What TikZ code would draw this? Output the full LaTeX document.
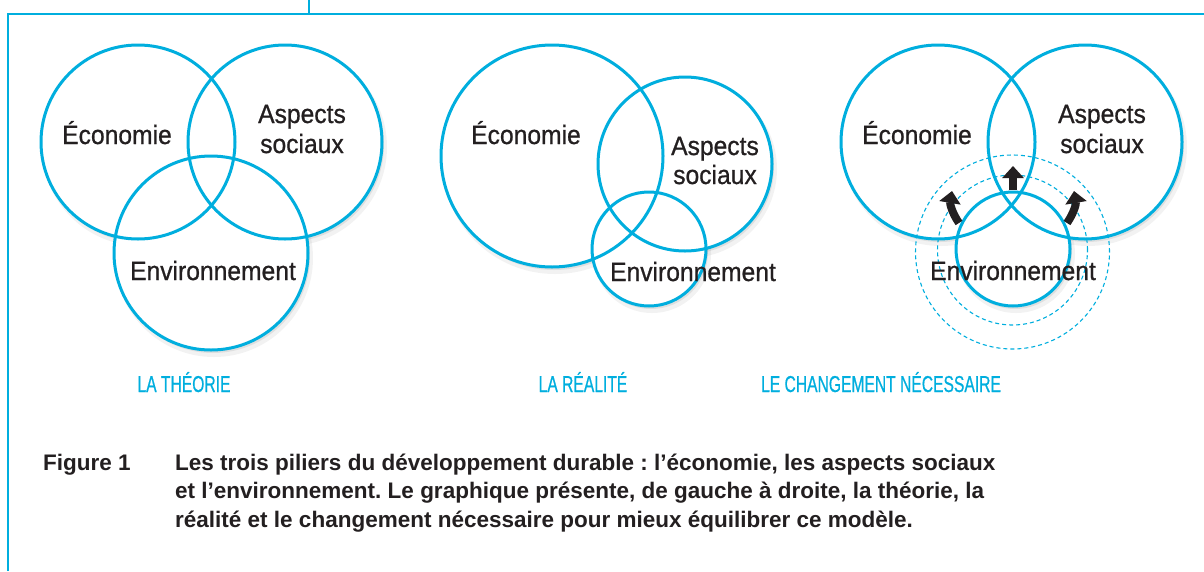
\documentclass[tikz,border=0pt]{standalone}
\usepackage{fontspec}
\setmainfont{Liberation Sans}
\newfontfamily\diagfont[FakeStretch=0.93,FakeBold=0.8]{Liberation Sans}
\newfontfamily\labfont[FakeStretch=0.68,FakeBold=0.6]{Liberation Sans}
\usetikzlibrary{arrows.meta}
\definecolor{cy}{RGB}{0,174,222}
\definecolor{ink}{RGB}{35,31,32}
\frenchspacing
\tikzset{
  ring/.style={circle, draw=cy, line width=3pt, inner sep=0pt, outer sep=0pt},
  dring/.style={circle, draw=cy, line width=1.1pt, dash pattern=on 4pt off 3pt, inner sep=0pt},
  word/.style={font=\diagfont\fontsize{26.5}{30}\selectfont, text=ink, inner sep=0pt, anchor=base},
  title/.style={font=\labfont\fontsize{23}{26}\selectfont, text=cy, inner sep=0pt, anchor=base},
  capt/.style={font=\bfseries\fontsize{22.5}{28}\selectfont, text=ink, inner sep=0pt, anchor=base west},
  frame/.style={draw=cy, line width=2pt},
  blk/.style={draw=ink, line width=8pt, -{Triangle[length=12pt,width=21pt]}},
}
\begin{document}
\begin{tikzpicture}[x=1pt,y=-1pt]
\useasboundingbox (0,0) rectangle (1204,571);
% frame
\draw[frame] (8,571) -- (8,14) -- (1204,14);
\draw[frame] (309,0) -- (309,14);
% shadows
\foreach \x/\y/\r in {138/142/97, 285/142/97, 211/253/97, 552/156/111, 685/164/87, 649/249/57, 938/142/97, 1085/142/97, 1013/249/57}{
  \fill[black, opacity=0.05] (\x+3,\y+5) circle (\r+2);
  \fill[black, opacity=0.08] (\x+2,\y+3) circle (\r);
}
\foreach \x/\y/\r in {138/142/97, 285/142/97, 211/253/97, 552/156/111, 685/164/87, 649/249/57, 938/142/97, 1085/142/97, 1013/249/57}{
  \fill[white] (\x,\y) circle (\r);
}
% diagram 1
\node[ring, minimum size=194pt] (eco1) at (138,142) {};
\node[ring, minimum size=194pt] (soc1) at (285,142) {};
\node[ring, minimum size=194pt] (env1) at (211,253) {};
% diagram 2
\node[ring, minimum size=222pt] (eco2) at (552,156) {};
\node[ring, minimum size=174pt] (soc2) at (685,164) {};
\node[ring, minimum size=114pt] (env2) at (649,249) {};
% diagram 3
\node[ring, minimum size=194pt] (eco3) at (938,142) {};
\node[ring, minimum size=194pt] (soc3) at (1085,142) {};
\node[dring, minimum size=194pt] (halo3a) at (1012.5,252) {};
\node[dring, minimum size=150pt] (halo3b) at (1012.5,250) {};
\node[ring, minimum size=114pt] (env3) at (1013,249) {};
% arrows
\coordinate (am0) at (1013,190); \coordinate (am1) at (1013,166);
\coordinate (al0) at (959,223); \coordinate (al1) at (952,191);
\coordinate (ar0) at (1067,223); \coordinate (ar1) at (1074,191);
\draw[blk] (am0) -- (am1);
\draw[blk] (al0) to[bend left=22] (al1);
\draw[blk] (ar0) to[bend right=22] (ar1);
% words
\node[word] (te1) at (117,144) {Économie};
\node[word] (ta1) at (302,123) {Aspects};
\node[word] (ts1) at (302,153) {sociaux};
\node[word] (tn1) at (213,280) {Environnement};
\node[word] (te2) at (526,144) {Économie};
\node[word] (ta2) at (715,155) {Aspects};
\node[word] (ts2) at (715,184) {sociaux};
\node[word] (tn2) at (693,281) {Environnement};
\node[word] (te3) at (917,144) {Économie};
\node[word] (ta3) at (1102,123) {Aspects};
\node[word] (ts3) at (1102,153) {sociaux};
\node[word] (tn3) at (1013,280) {Environnement};
% titles
\node[title] (l1) at (184,392) {LA THÉORIE};
\node[title] (l2) at (583,392) {LA RÉALITÉ};
\node[title] (l3) at (881,392) {LE CHANGEMENT NÉCESSAIRE};
% caption
\node[capt] (fig) at (43,470) {Figure 1};
\node[capt] (c1) at (175,470) {Les trois piliers du développement durable : l’économie, les aspects sociaux};
\node[capt] (c2) at (175,498) {et l’environnement. Le graphique présente, de gauche à droite, la théorie, la};
\node[capt] (c3) at (175,527) {réalité et le changement nécessaire pour mieux équilibrer ce modèle.};
\end{tikzpicture}
\end{document}
